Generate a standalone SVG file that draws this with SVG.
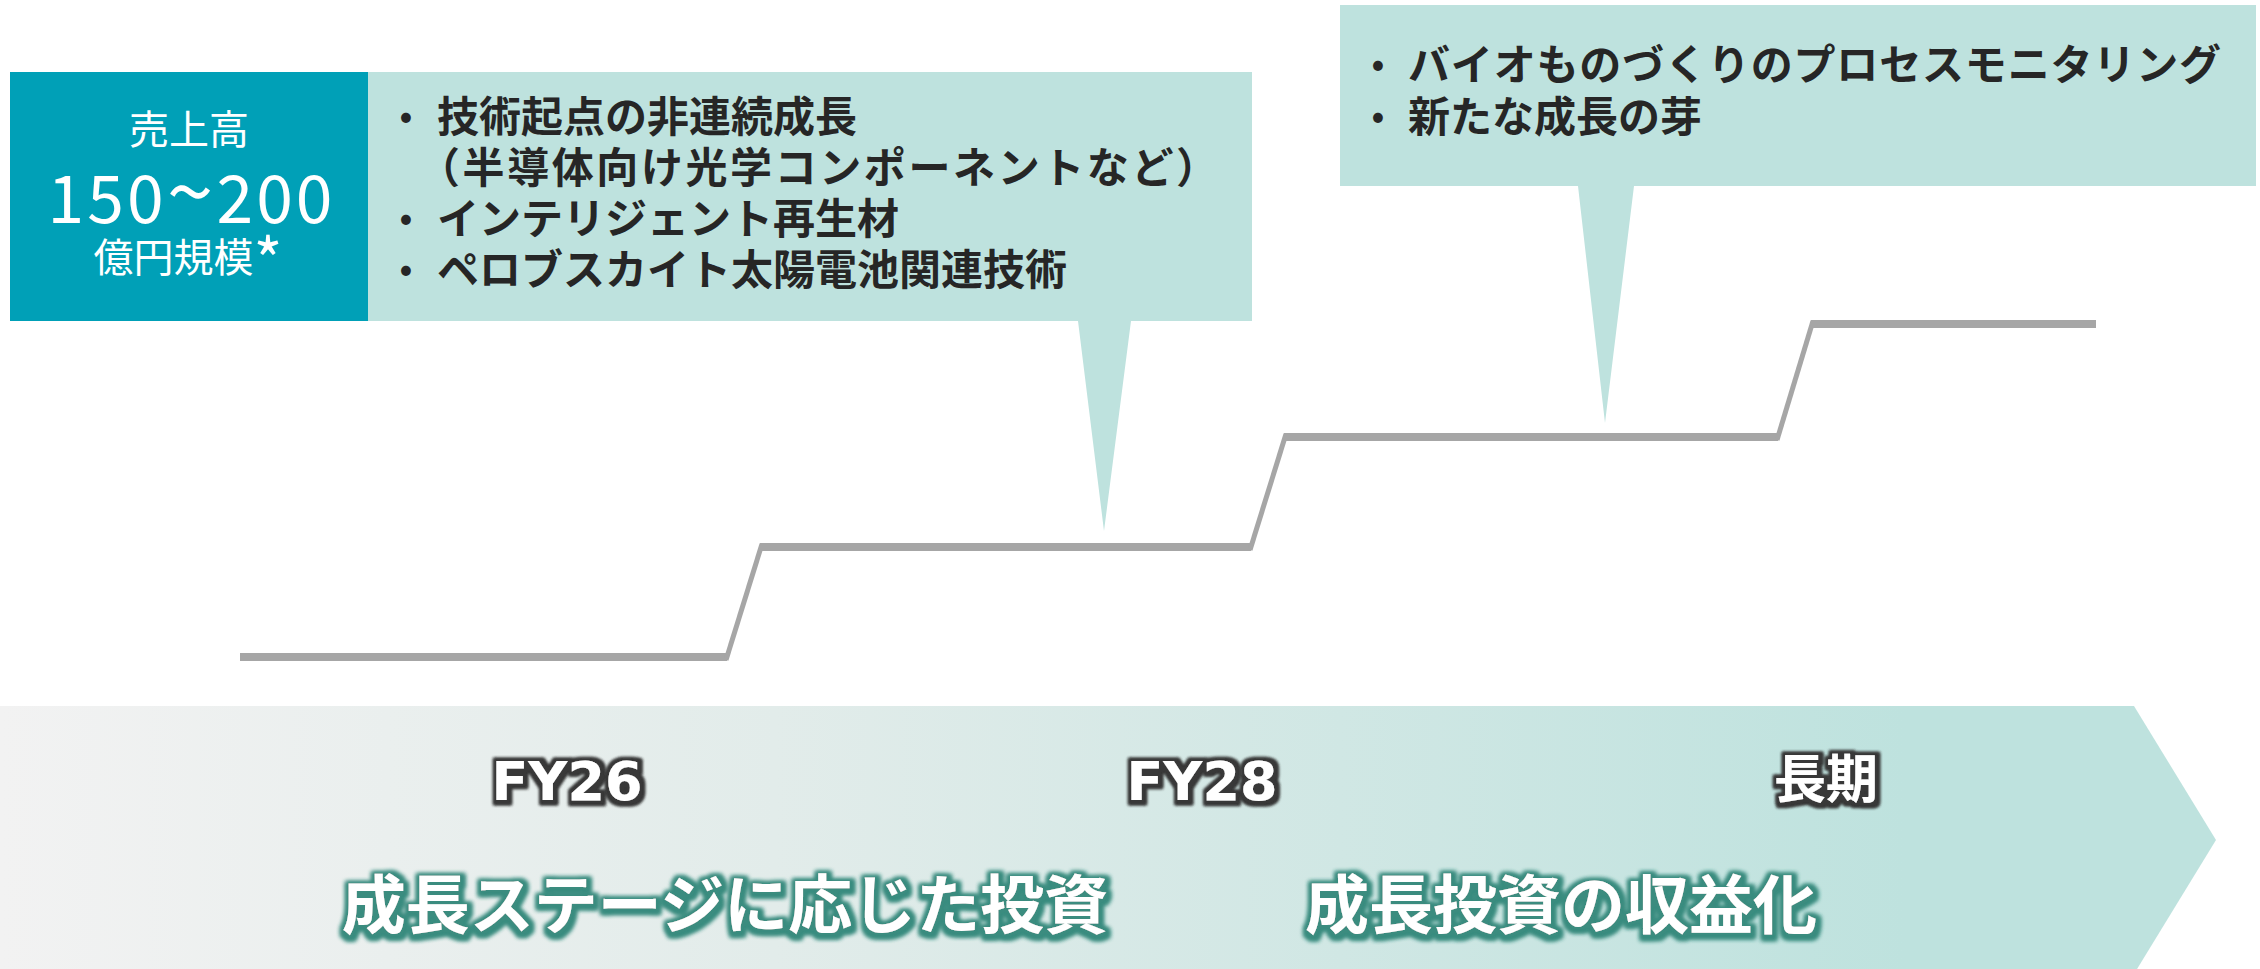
<svg xmlns="http://www.w3.org/2000/svg" width="2260" height="969" viewBox="0 0 2260 969">
<style>
.jp{font-family:"Noto Sans CJK JP","Noto Sans",sans-serif;}
.item{font-family:"Noto Sans CJK JP","Noto Sans",sans-serif;font-weight:700;font-size:42px;fill:#262626;}
.bul{font-family:"Noto Sans CJK JP","DejaVu Sans",sans-serif;font-weight:700;font-size:34px;fill:#262626;text-anchor:middle;}
.wt{fill:#ffffff;}
.fy{font-family:"DejaVu Sans","Noto Sans CJK JP",sans-serif;font-weight:700;font-size:54px;fill:#ffffff;text-anchor:middle;}
.big{font-family:"Noto Sans CJK JP","Noto Sans",sans-serif;font-weight:700;font-size:64px;fill:#ffffff;text-anchor:middle;}
.callout{fill:#BEE2DE;}
.lvl{stroke:#A6A6A6;stroke-width:8;fill:none;}
.rise{stroke:#A6A6A6;stroke-width:5;fill:none;}
</style>
<defs>
<linearGradient id="bandGrad" gradientUnits="userSpaceOnUse" x1="0" y1="0" x2="2216" y2="0">
<stop offset="0" stop-color="#F2F2F2"/>
<stop offset="0.35" stop-color="#E2ECEA"/>
<stop offset="0.86" stop-color="#BEE2DE"/>
<stop offset="1" stop-color="#BEE2DE"/>
</linearGradient>
<filter id="glowDark" x="-15%" y="-40%" width="130%" height="180%">
<feMorphology in="SourceAlpha" operator="dilate" radius="4" result="d"/>
<feGaussianBlur in="d" stdDeviation="1.8" result="b"/>
<feFlood flood-color="#383838"/>
<feComposite in2="b" operator="in" result="s"/>
<feOffset in="s" dx="1" dy="1" result="o"/>
<feMerge><feMergeNode in="o"/><feMergeNode in="o"/><feMergeNode in="SourceGraphic"/></feMerge>
</filter>
<filter id="glowTeal" x="-10%" y="-40%" width="120%" height="180%">
<feMorphology in="SourceAlpha" operator="dilate" radius="4" result="d"/>
<feGaussianBlur in="d" stdDeviation="2" result="b"/>
<feFlood flood-color="#3A8C7F"/>
<feComposite in2="b" operator="in" result="s"/>
<feOffset in="s" dx="1" dy="2" result="o"/>
<feMerge><feMergeNode in="o"/><feMergeNode in="o"/><feMergeNode in="SourceGraphic"/></feMerge>
</filter>
</defs>
<rect width="2260" height="969" fill="#ffffff"/>

<g id="timeline-band">
<path d="M0,706 H2134 L2216,840 L2134,974 H0 Z" fill="url(#bandGrad)"/>
</g>

<g id="step-line">
<line class="lvl" x1="240" y1="657" x2="727" y2="657"/>
<line class="rise" x1="726" y1="660" x2="762" y2="544"/>
<line class="lvl" x1="760" y1="547" x2="1251" y2="547"/>
<line class="rise" x1="1250" y1="550" x2="1286" y2="434"/>
<line class="lvl" x1="1284" y1="437" x2="1778" y2="437"/>
<line class="rise" x1="1777" y1="440" x2="1813" y2="321"/>
<line class="lvl" x1="1811" y1="324" x2="2096" y2="324"/>
</g>

<g id="callout-fy26">
<path class="callout" d="M367,72 H1252 V321 H1131 L1104,531 L1078,321 H367 Z"/>
<text class="bul" x="406" y="128">•</text>
<text class="item" x="437" y="132">技術起点の非連続成長</text>
<text class="item" x="418" y="183" textLength="800" lengthAdjust="spacing">（半導体向け光学コンポーネントなど）</text>
<text class="bul" x="406" y="230">•</text>
<text class="item" x="437" y="234">インテリジェント再生材</text>
<text class="bul" x="406" y="281">•</text>
<text class="item" x="437" y="285">ペロブスカイト太陽電池関連技術</text>
</g>

<g id="sales-box">
<rect x="10" y="72" width="358" height="249" fill="#00A0B7"/>
<text class="jp wt" x="189" y="144" font-size="40" text-anchor="middle">売上高</text>
<text class="jp wt" x="190" y="223" font-size="66" text-anchor="middle" textLength="285" lengthAdjust="spacing">150<tspan font-size="84">~</tspan>200</text>
<text class="jp wt" x="188" y="272" font-size="40" text-anchor="middle">億円規模<tspan font-size="62" dy="12">*</tspan></text>
</g>

<g id="callout-longterm">
<path class="callout" d="M1340,5 H2256 V186 H1634 L1605,423 L1578,186 H1340 Z"/>
<text class="bul" x="1378" y="76">•</text>
<text class="item" x="1408" y="80" textLength="813" lengthAdjust="spacing">バイオものづくりのプロセスモニタリング</text>
<text class="bul" x="1378" y="128">•</text>
<text class="item" x="1408" y="132">新たな成長の芽</text>
</g>

<g id="period-labels">
<text class="fy" x="567" y="800" filter="url(#glowDark)">FY26</text>
<text class="fy" x="1202" y="800" filter="url(#glowDark)">FY28</text>
<text class="fy" x="1826" y="798" style="font-family:'Noto Sans CJK JP',sans-serif;font-size:52px" filter="url(#glowDark)">長期</text>
</g>

<g id="phase-labels">
<text class="big" x="725" y="928" filter="url(#glowTeal)">成長ステージに応じた投資</text>
<text class="big" x="1561" y="928" filter="url(#glowTeal)">成長投資の収益化</text>
</g>
</svg>
